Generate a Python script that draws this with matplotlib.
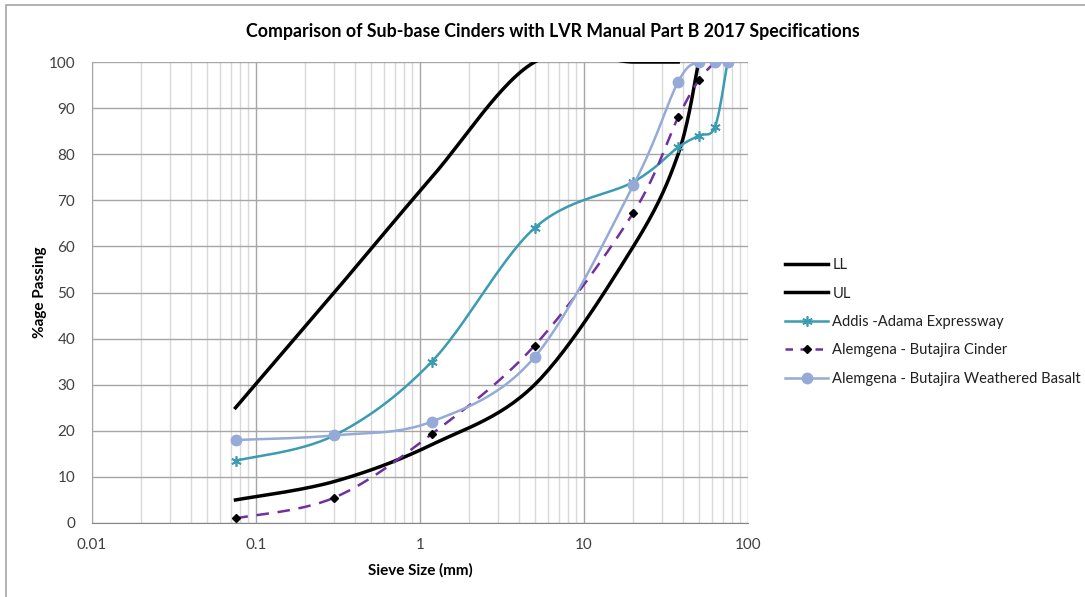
import numpy as np
import matplotlib.pyplot as plt
from matplotlib.lines import Line2D
from matplotlib.patches import Rectangle

plt.rcParams['font.family'] = ['Lato', 'DejaVu Sans']

# sieve sizes (mm) and % passing
ll_x = [0.075, 0.3, 1.18, 5, 20, 37.5, 50]
ll_y = [5, 9, 17, 30, 60, 80, 100]
ul_x = [0.075, 0.3, 1.18, 5, 20, 37.5]
ul_y = [25, 50, 75, 100, 100, 100]
addis_x = [0.075, 0.3, 1.18, 5, 20, 37.5, 50, 63, 75]
addis_y = [13.5, 19, 35, 64, 74, 81.5, 84, 86, 100]
cinder_x = [0.075, 0.3, 1.18, 5, 20, 37.5, 50, 63]
cinder_y = [1, 5.5, 19.3, 38.5, 67.3, 88, 96, 100]
basalt_x = [0.075, 0.3, 1.18, 5, 20, 37.5, 50, 63, 75]
basalt_y = [18, 19, 22, 36, 73.3, 95.7, 100, 100, 100]


def smooth(xs, ys, n=30):
    # excel-like smoothed line (catmull-rom bezier in log-x space)
    px = np.log10(np.array(xs, float))
    py = np.array(ys, float)
    P = np.column_stack([px, py])
    out = []
    for i in range(len(P) - 1):
        p0 = P[i - 1] if i > 0 else P[i]
        p1 = P[i]
        p2 = P[i + 1]
        p3 = P[i + 2] if i + 2 < len(P) else P[i + 1]
        c1 = p1 + (p2 - p0) / 6
        c2 = p2 - (p3 - p1) / 6
        t = np.linspace(0, 1, n)[:, None]
        seg = ((1 - t) ** 3) * p1 + 3 * ((1 - t) ** 2) * t * c1 + 3 * (1 - t) * t ** 2 * c2 + t ** 3 * p2
        out.append(seg if i == 0 else seg[1:])
    out = np.vstack(out)
    return 10 ** out[:, 0], out[:, 1]


fig = plt.figure(figsize=(10.85, 5.97), dpi=100)
fig.patches.append(Rectangle((6 / 1085, -0.1), 1.2, 1.1 - 5 / 597, transform=fig.transFigure,
                             fill=False, edgecolor='#a6a6a6', linewidth=1.2))
ax = fig.add_axes([92 / 1085, 1 - 523 / 597, (748 - 92) / 1085, (523 - 62) / 597])

ax.set_xscale('log')
ax.set_xlim(0.01, 100)
ax.set_ylim(0, 100)
ax.set_yticks(range(0, 101, 10))
ax.grid(True, which='major', color='#a6a6a6', linewidth=1)
ax.grid(True, which='minor', axis='x', color='#d9d9d9', linewidth=1)
ax.set_axisbelow(True)
ax.tick_params(which='both', length=0, labelsize=11, colors='#404040')
ax.tick_params(axis='x', pad=11)
ax.tick_params(axis='y', pad=12)
ax.set_xticks([0.01, 0.1, 1, 10, 100])
ax.set_xticklabels(['0.01', '0.1', '1', '10', '100'])
for s in ['top', 'right']:
    ax.spines[s].set_visible(False)
ax.spines['left'].set_color('#a6a6a6')
ax.spines['bottom'].set_color('#868686')

teal = '#3a9bb2'
purple = '#7030a0'
lblue = '#95aad6'

x, y = smooth(ll_x, ll_y)
ax.plot(x, y, color='black', linewidth=2.5)
x, y = smooth(ul_x, ul_y)
ax.plot(x, y, color='black', linewidth=2.5)

x, y = smooth(addis_x, addis_y)
ax.plot(x, y, color=teal, linewidth=1.8)
ax.plot(addis_x, addis_y, linestyle='none', marker=(6, 2, 0), markersize=7.5, color=teal, markeredgewidth=1.2)

x, y = smooth(cinder_x, cinder_y)
ax.plot(x, y, color=purple, linewidth=1.8, linestyle=(0, (5, 3.5)))
ax.plot(cinder_x, cinder_y, linestyle='none', marker='D', markersize=4.2, color='black')

x, y = smooth(basalt_x, basalt_y)
ax.plot(x, y, color=lblue, linewidth=1.8)
ax.plot(basalt_x, basalt_y, linestyle='none', marker='o', markersize=7.5, color=lblue)

ax.set_title('Comparison of Sub-base Cinders with LVR Manual Part B 2017 Specifications',
             fontsize=12.8, fontweight='bold', pad=18, x=(552.5 - 92) / 656)
ax.set_xlabel('Sieve Size (mm)', fontsize=11, fontweight='bold', labelpad=8)
ax.set_ylabel('%age Passing', fontsize=11, fontweight='bold', labelpad=1)

handles = [
    Line2D([], [], color='black', linewidth=2.5),
    Line2D([], [], color='black', linewidth=2.5),
    Line2D([], [], color=teal, linewidth=1.8, marker=(6, 2, 0), markersize=7.5, markeredgewidth=1.2),
    Line2D([], [], color=purple, linewidth=1.8, linestyle=(0, (3, 3)), marker='D', markersize=4.2,
           markerfacecolor='black', markeredgecolor='black'),
    Line2D([], [], color=lblue, linewidth=1.8, marker='o', markersize=7.5),
]
labels = ['LL', 'UL', 'Addis -Adama Expressway', 'Alemgena - Butajira Cinder',
          'Alemgena - Butajira Weathered Basalt']
fig.legend(handles, labels, loc='center left', bbox_to_anchor=(772 / 1085, 1 - 322 / 597),
           frameon=False, fontsize=10.6, handlelength=2.9, handletextpad=0.3, labelspacing=0.98,
           labelcolor='#202020')

fig.savefig('out.png', dpi=100)
